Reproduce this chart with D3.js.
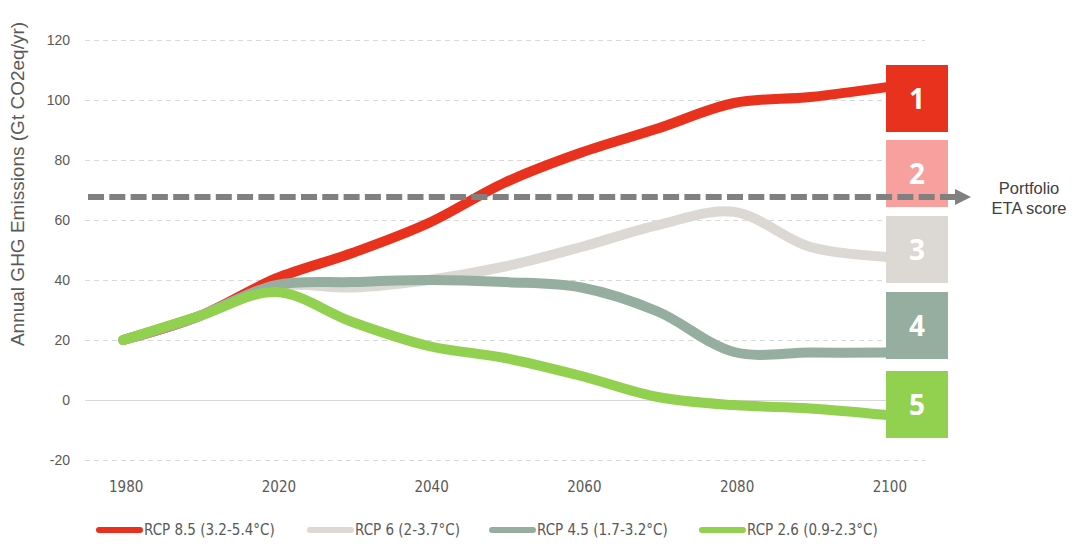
<!DOCTYPE html>
<html>
<head>
<meta charset="utf-8">
<script src="https://cdn.jsdelivr.net/npm/d3@7"></script>
<style>
  html, body { margin: 0; padding: 0; background: #fff; }
  svg { display: block; font-family: Arial, "Liberation Sans", sans-serif; }
</style>
</head>
<body>
<div id="chart"></div>
<script>
// ── Data ──
const years = ["1980","2000","2020","2030","2040","2050","2060","2070","2080","2090","2100"];
const tickYears = ["1980","2020","2040","2060","2080","2100"];
const yTicks = [-20, 0, 20, 40, 60, 80, 100, 120];

const rcp85 = [20, 28, 40.5, 49, 59, 72.5, 82.5, 90.5, 99, 101, 104.3];
const rcp6  = [20, 28, 38, 37.5, 40, 44.5, 51, 58.3, 62.7, 51, 47.7];
const rcp45 = [20, 28, 38.3, 39.3, 40, 39.3, 37.5, 29.5, 16, 15.8, 15.8];
const rcp26 = [20, 28, 36, 26, 18, 14, 8, 1, -1.7, -2.8, -5];

const seriesNames  = ["RCP 8.5 (3.2-5.4°C)", "RCP 6 (2-3.7°C)", "RCP 4.5 (1.7-3.2°C)", "RCP 2.6 (0.9-2.3°C)"];
const seriesValues = [rcp85, rcp6, rcp45, rcp26];
const seriesColors = ["#e8321e", "#dcd8d4", "#95ae9f", "#92d050"];

const scoreLabels = ["1", "2", "3", "4", "5"];
const scoreColors = ["#e8321e", "#f8a09e", "#dcd8d4", "#95ae9f", "#92d050"];

const portfolioScore = 67.7;

// ── Layout ──
const W = 1076, H = 544;
const svg = d3.select("#chart").append("svg").attr("width", W).attr("height", H);

const x = d3.scalePoint().domain(years).range([85, 925]).padding(0.5);
const y = d3.scaleLinear().domain([-20, 120]).range([460, 40]);

// Gridlines
svg.append("g").selectAll("line")
  .data(yTicks)
  .join("line")
  .attr("x1", 85).attr("x2", 925)
  .attr("y1", d => y(d) + 0.5).attr("y2", d => y(d) + 0.5)
  .attr("stroke", "#d9d9d9")
  .attr("stroke-width", 1)
  .attr("stroke-dasharray", d => d === 0 ? null : "5,4");

// Y axis labels
svg.append("g").selectAll("text")
  .data(yTicks)
  .join("text")
  .attr("x", 70).attr("y", d => y(d))
  .attr("dy", "0.36em")
  .attr("text-anchor", "end")
  .attr("font-size", "14px")
  .attr("fill", "#595959")
  .text(d => d);

// Y axis title
svg.append("text")
  .attr("transform", "translate(24,184) rotate(-90)")
  .attr("text-anchor", "middle")
  .attr("font-size", "19px")
  .attr("fill", "#595959")
  .text("Annual GHG Emissions (Gt CO2eq/yr)");

// X axis labels
const narrow = '"Liberation Sans Narrow", "DejaVu Sans Condensed", "Roboto Condensed", sans-serif';
svg.append("g").selectAll("text")
  .data(tickYears)
  .join("text")
  .attr("x", d => x(d) + 3).attr("y", 487)
  .attr("dy", "0.36em")
  .attr("text-anchor", "middle")
  .attr("font-family", narrow)
  .attr("font-size", "15px")
  .attr("fill", "#595959")
  .text(d => d);

// Score boxes
const boxTops = [65, 140, 216, 292, 371];
const boxH = 67;
const boxes = svg.append("g").selectAll("g")
  .data(scoreLabels)
  .join("g");
boxes.append("rect")
  .attr("x", 886).attr("y", (d, i) => boxTops[i])
  .attr("width", 62).attr("height", boxH)
  .attr("fill", (d, i) => scoreColors[i]);
boxes.append("text")
  .attr("x", 917).attr("y", (d, i) => boxTops[i] + boxH / 2)
  .attr("dy", "0.36em")
  .attr("text-anchor", "middle")
  .attr("font-size", "28px")
  .attr("font-weight", "bold")
  .attr("font-family", '"Open Sans", "DejaVu Sans", sans-serif')
  .attr("fill", "#fff")
  .text(d => d);

// Lines
const line = d3.line()
  .x((d, i) => x(years[i]))
  .y(d => y(d))
  .curve(d3.curveCatmullRom.alpha(0.5));

svg.append("g").selectAll("path")
  .data(seriesValues)
  .join("path")
  .attr("d", line)
  .attr("fill", "none")
  .attr("stroke", (d, i) => seriesColors[i])
  .attr("stroke-width", 10)
  .attr("stroke-linecap", "round")
  .attr("stroke-linejoin", "round");

// Portfolio dashed arrow
const py = y(portfolioScore);
svg.append("line")
  .attr("x1", 88).attr("x2", 956)
  .attr("y1", py).attr("y2", py)
  .attr("stroke", "#808080")
  .attr("stroke-width", 6)
  .attr("stroke-dasharray", "16,5.3");
svg.append("path")
  .attr("d", `M955,${py - 8}L971,${py}L955,${py + 8}Z`)
  .attr("fill", "#808080");

svg.append("text")
  .attr("x", 1029).attr("y", py - 3)
  .attr("text-anchor", "middle")
  .attr("font-size", "16.5px")
  .attr("fill", "#404040")
  .selectAll("tspan")
  .data(["Portfolio", "ETA score"])
  .join("tspan")
  .attr("x", 1029)
  .attr("dy", (d, i) => i === 0 ? 0 : "1.2em")
  .text(d => d);

// Legend
const legendX = [96, 307, 489, 699];
const leg = svg.append("g").selectAll("g")
  .data(seriesNames)
  .join("g")
  .attr("transform", (d, i) => `translate(${legendX[i]},530)`);
leg.append("line")
  .attr("x1", 3).attr("x2", 44)
  .attr("stroke", (d, i) => seriesColors[i])
  .attr("stroke-width", 6)
  .attr("stroke-linecap", "round");
leg.append("text")
  .attr("x", 48)
  .attr("dy", "0.36em")
  .attr("font-family", narrow)
  .attr("font-size", "15px")
  .attr("fill", "#595959")
  .text(d => d);
</script>
</body>
</html>
